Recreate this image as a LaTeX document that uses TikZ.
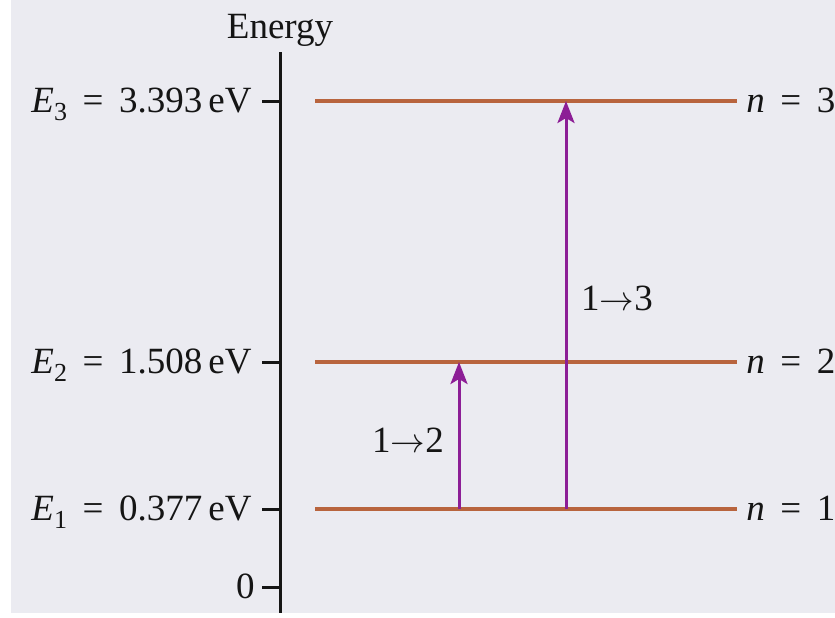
\documentclass[tikz,border=0pt]{standalone}
\usepackage{fontspec}
\setmainfont{Liberation Serif}
\usepackage{tikz}
\usetikzlibrary{arrows.meta}
\definecolor{Paper}{HTML}{EBEBF1}
\definecolor{Rust}{HTML}{B8643E}
\definecolor{Plum}{HTML}{8C1E96}
\definecolor{Ink}{HTML}{151515}
\tikzset{lbl/.style={inner sep=0pt,text=Ink,font=\fontsize{18.5}{22}\selectfont}}
\newcommand{\eqsp}{\hspace{0.42em}=\hspace{0.42em}}
\newcommand{\sublevel}[1]{\raisebox{-0.24em}{\fontsize{13}{13}\selectfont #1}}
\newcommand{\levelline}[4]{%
  \coordinate (#1w) at (315,#2); \coordinate (#1e) at (737,#2);
  \coordinate (#1t) at (262,#2); \coordinate (#1a) at (280,#2);
  \draw[line width=2pt,color=Rust] (#1w) -- (#1e);
  \draw[line width=1.5pt,color=Ink] (#1t) -- (#1a);
  \node[lbl,anchor=base east] (#1v) at (252,#2+11) {#3};
  \node[lbl,anchor=base west] (#1n) at (746,#2+11) {\textit{n}\eqsp#4};}

\begin{document}
\begin{tikzpicture}[x=0.5pt,y=-0.5pt]
    \useasboundingbox (0,0) rectangle (835,617);
    \fill[Paper] (11,0) rectangle (835,613);
    \coordinate (axtop) at (280,52);
    \coordinate (axbot) at (280,613);
    \draw[line width=1.5pt,color=Ink] (axtop) -- (axbot);
    \node[lbl,anchor=base] (energy) at (280,38) {Energy};
    \levelline{L3}{101}{\textit{E}\sublevel{3}\eqsp3.393\,eV}{3}
    \levelline{L2}{362}{\textit{E}\sublevel{2}\eqsp1.508\,eV}{2}
    \levelline{L1}{509}{\textit{E}\sublevel{1}\eqsp0.377\,eV}{1}
    \coordinate (zt) at (262,587); \coordinate (za) at (280,587);
    \draw[line width=1.5pt,color=Ink] (zt) -- (za);
    \node[lbl,anchor=base east] (zero) at (255,598) {0};
    \coordinate (s12) at (459,509); \coordinate (t12) at (459,362);
    \coordinate (s13) at (566,509); \coordinate (t13) at (566,101);
    \foreach \a/\b in {s12/t12,s13/t13}
      \draw[-{Stealth[length=11pt,width=8.5pt,inset=2.5pt]},line width=1.5pt,color=Plum] (\a) -- (\b);
    \node[lbl] (tr12) at (408,440) {1$\rightarrow$2};
    \node[lbl] (tr13) at (617,298) {1$\rightarrow$3};
  \end{tikzpicture}
\end{document}
